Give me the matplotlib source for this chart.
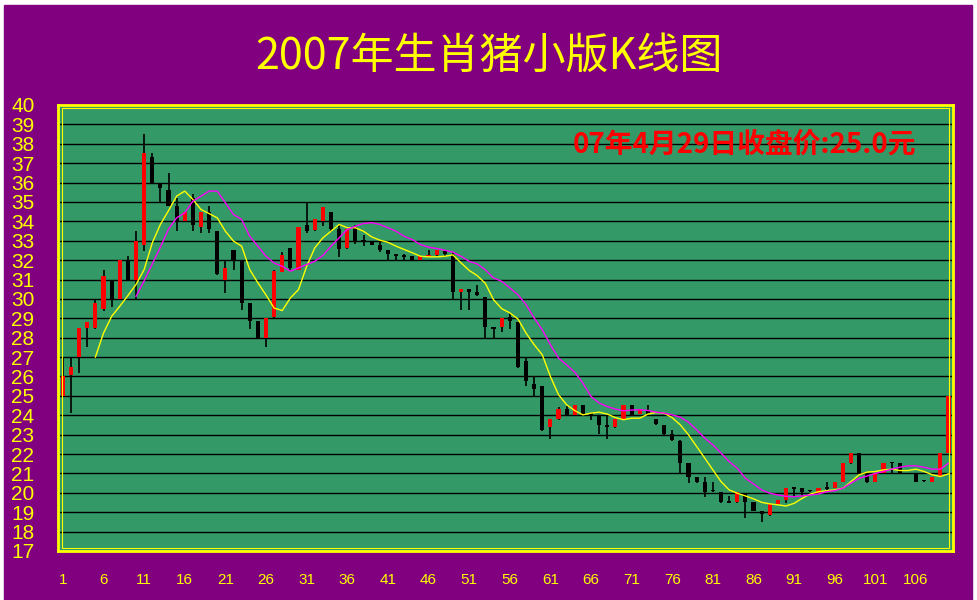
import numpy as np
import matplotlib.pyplot as plt
from matplotlib.patches import Rectangle

plt.rcParams['font.family'] = ['Noto Sans CJK SC', 'DejaVu Sans']

# daily candles: open, high, low, close (day 1 .. 110)
opens = [25.0, 26.1, 27.0, 28.5, 28.5, 29.5, 31.0, 30.0, 32.0, 31.0,
         32.8, 37.3, 36.0, 35.6, 34.8, 34.0, 35.2, 33.7, 34.5, 33.5,
         31.0, 32.5, 32.0, 29.8, 28.85, 28.0, 29.05, 31.4, 32.6, 31.5,
         33.8, 33.55, 34.0, 34.5, 33.6, 32.6, 33.7, 33.05, 32.97, 32.8,
         32.5, 32.3, 32.25, 32.2, 32.0, 32.17, 32.29, 32.45, 32.25, 30.35,
         30.5, 30.35, 30.1, 28.55, 28.55, 29.07, 28.8, 26.8, 25.6, 25.5,
         23.4, 23.82, 24.32, 24.02, 24.54, 24.1, 24.0, 23.5, 23.37, 23.82,
         24.54, 24.06, 24.28, 23.82, 23.5, 23.03, 22.65, 21.53, 20.8, 20.56,
         20.1, 20.03, 19.6, 19.53, 20.0, 19.53, 19.06, 18.86, 19.43, 19.63,
         20.3, 20.24, 20.1, 20.01, 20.32, 20.27, 20.58, 21.56, 22.05, 20.98,
         20.58, 21.02, 21.6, 21.53, 21.1, 21.02, 20.62, 20.58, 20.84, 22.05]
highs = [27.0, 27.0, 28.5, 28.8, 30.0, 31.5, 31.0, 32.0, 32.2, 33.5,
         38.5, 37.5, 36.0, 36.5, 35.2, 34.5, 35.4, 34.5, 34.8, 33.5,
         32.0, 32.5, 32.0, 29.8, 28.85, 29.0, 31.5, 32.4, 32.6, 33.7,
         35.0, 34.1, 34.75, 34.5, 33.85, 33.6, 33.8, 33.3, 32.97, 33.0,
         32.5, 32.3, 32.3, 32.2, 32.2, 32.5, 32.5, 32.45, 32.35, 30.5,
         30.5, 30.7, 30.1, 28.55, 29.03, 29.25, 28.8, 27.0, 26.05, 25.5,
         23.8, 24.42, 24.5, 24.54, 24.54, 24.1, 24.0, 24.0, 23.82, 24.54,
         24.54, 24.33, 24.54, 23.82, 23.5, 23.25, 22.7, 21.53, 20.8, 20.8,
         20.56, 20.03, 19.84, 20.03, 20.0, 19.53, 19.06, 19.43, 19.64, 20.25,
         20.3, 20.24, 20.1, 20.24, 20.58, 20.56, 21.53, 22.05, 22.05, 20.98,
         21.02, 21.53, 21.6, 21.53, 21.1, 21.02, 20.62, 20.81, 22.05, 25.0]
lows = [25.0, 24.1, 26.2, 27.5, 28.45, 29.4, 29.6, 30.0, 31.0, 30.0,
        32.45, 36.0, 35.0, 34.8, 33.5, 34.0, 33.5, 33.4, 33.4, 31.25,
        30.3, 31.5, 29.45, 28.45, 28.0, 27.5, 29.0, 31.4, 31.5, 31.5,
        33.4, 33.5, 33.75, 33.45, 32.15, 32.55, 32.85, 32.75, 32.8, 32.4,
        32.0, 32.0, 32.0, 32.0, 32.0, 32.17, 32.2, 32.2, 30.0, 29.45,
        29.45, 30.15, 28.0, 28.0, 28.27, 28.47, 26.45, 25.5, 25.0, 23.2,
        22.8, 23.77, 24.0, 24.02, 24.0, 23.76, 23.03, 22.78, 23.33, 23.82,
        24.02, 24.06, 24.06, 23.5, 23.0, 22.68, 21.0, 20.53, 20.53, 19.8,
        20.05, 19.5, 19.5, 19.5, 18.72, 19.06, 18.5, 18.8, 19.43, 19.5,
        19.8, 19.84, 20.05, 20.0, 20.06, 20.27, 20.58, 21.5, 21.02, 20.53,
        20.58, 21.02, 21.02, 21.02, 21.1, 20.58, 20.58, 20.58, 20.84, 22.05]
closes = [26.0, 26.5, 28.5, 28.8, 29.8, 31.2, 30.0, 32.0, 31.0, 33.0,
          37.5, 36.0, 35.7, 34.8, 34.0, 34.5, 33.8, 34.5, 33.6, 31.3,
          31.6, 32.0, 29.8, 28.85, 28.0, 29.0, 31.45, 32.27, 31.6, 33.7,
          33.5, 34.1, 34.73, 33.6, 32.55, 33.6, 33.0, 32.95, 32.8, 32.5,
          32.3, 32.2, 32.15, 32.03, 32.2, 32.29, 32.5, 32.3, 30.35, 30.5,
          30.35, 30.2, 28.55, 28.47, 29.03, 28.85, 26.5, 25.75, 25.35, 23.25,
          23.8, 24.32, 24.02, 24.54, 24.02, 24.02, 23.5, 23.37, 23.82, 24.54,
          24.02, 24.33, 24.06, 23.55, 23.03, 22.73, 21.56, 20.84, 20.58, 20.05,
          20.05, 19.53, 19.5, 20.03, 19.53, 19.06, 18.9, 19.43, 19.64, 20.25,
          20.22, 20.06, 20.05, 20.24, 20.2, 20.56, 21.53, 22.05, 21.02, 20.58,
          21.02, 21.53, 21.53, 21.02, 21.1, 20.58, 20.58, 20.81, 22.05, 25.0]

# short average line (yellow), from day 5
ma_short = [27.0, 28.24, 29.1, 29.62, 30.17, 30.74, 31.51, 32.89, 33.84, 34.55,
            35.3, 35.56, 35.13, 34.61, 34.4, 34.18, 33.49, 32.98, 32.72, 31.51,
            30.83, 30.2, 29.53, 29.4, 30.05, 30.48, 31.68, 32.63, 33.15, 33.49,
            33.84, 33.67, 33.67, 33.49, 33.2, 33.03, 32.92, 32.72, 32.55, 32.38,
            32.2, 32.17, 32.17, 32.2, 32.27, 31.86, 31.47, 31.2, 30.8, 29.96,
            29.5, 29.28, 28.97, 28.24, 27.64, 27.12, 26.0, 25.06, 24.54, 24.24,
            24.02, 24.11, 24.16, 24.06, 23.88, 23.77, 23.85, 23.85, 24.06, 24.14,
            24.11, 23.87, 23.5, 22.99, 22.39, 21.79, 21.18, 20.58, 20.15, 19.98,
            19.84, 19.69, 19.51, 19.43, 19.38, 19.32, 19.46, 19.72, 19.94, 20.06,
            20.11, 20.15, 20.24, 20.58, 20.93, 21.07, 21.1, 21.18, 21.22, 21.15,
            21.15, 21.22, 21.1, 20.93, 20.84, 20.98]
# long average line (magenta), from day 10
ma_long = [30.13, 30.93, 31.8, 32.67, 33.6, 34.18, 34.44, 35.04, 35.3, 35.56,
           35.56, 34.96, 34.35, 34.1, 33.23, 32.72, 32.2, 31.85, 31.68, 31.43,
           31.6, 31.77, 31.94, 32.24, 32.72, 33.15, 33.58, 33.75, 33.89, 33.93,
           33.84, 33.67, 33.49, 33.23, 33.06, 32.8, 32.67, 32.6, 32.51, 32.41,
           32.2, 31.94, 31.8, 31.5, 31.08, 30.91, 30.57, 30.22, 29.71, 29.02,
           28.41, 27.64, 26.95, 26.6, 26.22, 25.66, 24.97, 24.63, 24.45, 24.32,
           24.23, 24.27, 24.28, 24.25, 24.16, 24.11, 24.02, 23.9, 23.64, 23.25,
           22.82, 22.47, 22.05, 21.61, 21.27, 20.75, 20.46, 20.15, 19.98, 19.89,
           19.82, 19.8, 19.84, 19.89, 19.94, 20.06, 20.11, 20.24, 20.5, 20.75,
           20.87, 21.0, 21.1, 21.22, 21.32, 21.39, 21.39, 21.32, 21.22, 21.22,
           21.53]

title = '2007年生肖猪小版K线图'
note = '07年4月29日收盘价:25.0元'
yticks = list(range(17, 41))
xticks = list(range(1, 110, 5))

PURPLE = '#800080'
GREEN = '#339966'

days = np.arange(1, len(closes) + 1)
o = np.array(opens)
c = np.array(closes)
up = c >= o

fig = plt.figure(figsize=(9.77, 6.0), dpi=100, facecolor='white')
fig.patches.append(Rectangle((4 / 977, 0), 1 - 9 / 977, 1 - 5 / 600,
                             transform=fig.transFigure, color=PURPLE, zorder=-10))

ax = fig.add_axes([58 / 977, 1 - 551 / 600, 895 / 977, 446 / 600])
ax.set_facecolor(GREEN)

for v in yticks[1:-1]:
    ax.axhline(v, color='black', lw=1, zorder=1)

ax.vlines(days, lows, highs, color='black', lw=1.2, zorder=2)
height = np.where(np.abs(c - o) < 0.06, 0.06, c - o)
ax.bar(days, height, bottom=o, width=0.5,
       color=np.where(up, '#ff0000', '#000000'), linewidth=0, zorder=3)

ax.plot(days[4:], ma_short, color='#ffff00', lw=1, zorder=4)
ax.plot(days[9:], ma_long, color='#ff00ff', lw=1, zorder=4)

ax.set_xlim(0.4, 110.55)
ax.set_ylim(17, 40)
ax.set_yticks(yticks)
ax.set_yticklabels([str(v) for v in yticks], family='Liberation Sans', fontsize=15)
ax.set_xticks(xticks)
ax.set_xticklabels([str(v) for v in xticks], family='Liberation Sans', fontsize=11)
ax.tick_params(axis='y', colors='#ffff00', length=0, pad=17)
ax.tick_params(axis='x', colors='#ffff00', length=0, pad=16)
for s in ax.spines.values():
    s.set_color('#ffff00')
    s.set_linewidth(2)

# inner border line of the frame
ax.add_patch(Rectangle((0.004, 0.006), 0.992, 0.988, transform=ax.transAxes,
                       fill=False, edgecolor='#ffff00', lw=0.8, zorder=5))

fig.text(0.5, 1 - 57 / 600, title, color='#ffff00', fontsize=31,
         style='italic', ha='center', va='center')
fig.text(744 / 977, 1 - 145 / 600, note, color='#ff0000', fontsize=20,
         fontweight='bold', ha='center', va='center')

fig.savefig('out.png', dpi=100, facecolor=fig.get_facecolor())
